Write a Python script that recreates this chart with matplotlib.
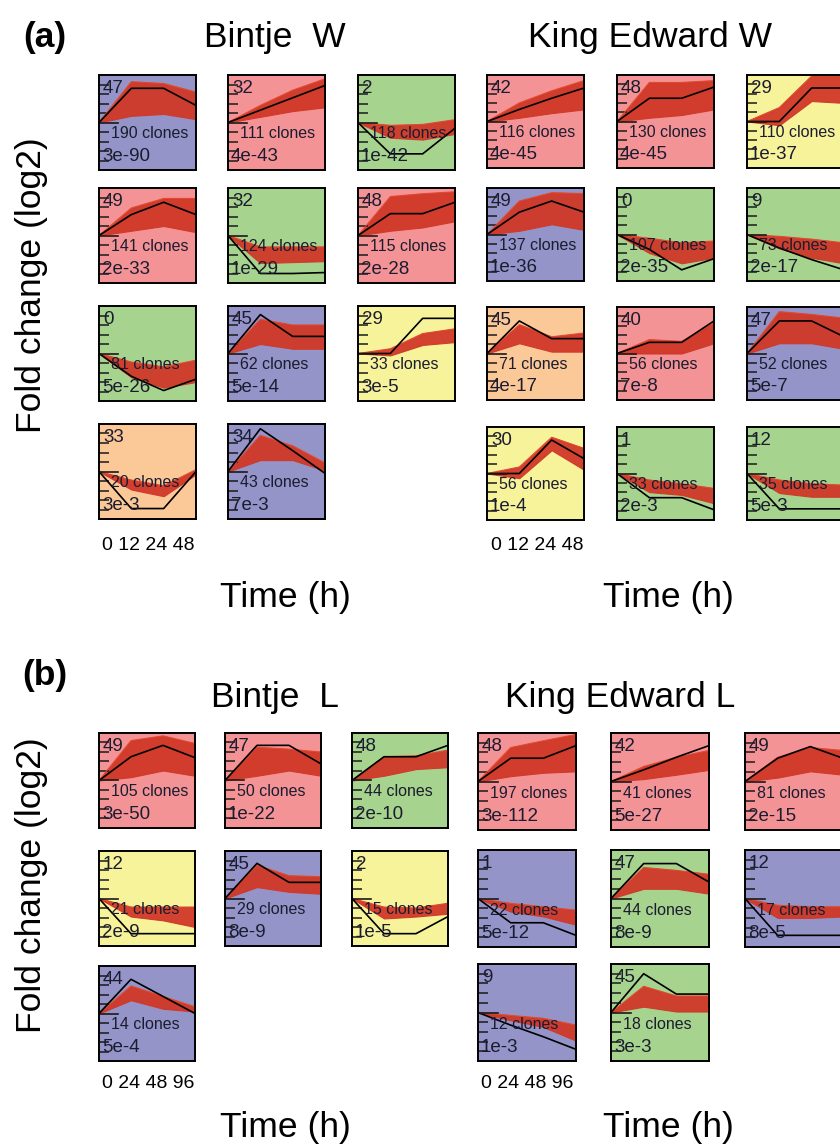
import matplotlib
matplotlib.use('Agg')
import matplotlib.pyplot as plt
import numpy as np

plt.rcParams['font.family'] = ['Liberation Sans', 'DejaVu Sans']

# ---------------- data ----------------
# every panel: profile id, clone count, p-value, colour class,
# model profile (black), lower / upper edge of the clone band (red), at 4 time points

a_bintje_ids = [47, 32, 2, 49, 32, 48, 0, 45, 29, 33, 34]
a_bintje_clones = [190, 111, 118, 141, 124, 115, 81, 62, 33, 20, 43]
a_bintje_pvals = ['3e-90', '4e-43', '1e-42', '2e-33', '1e-29', '2e-28', '5e-26', '5e-14', '3e-5', '3e-3', '7e-3']
a_bintje_cls = ['blue', 'pink', 'green', 'pink', 'green', 'pink', 'green', 'blue', 'yellow', 'orange', 'blue']
a_bintje_model = [[0, 3.6, 3.6, 1.8], [0, 1.3, 2.6, 3.9], [0, -3.3, -3.3, -0.6],
                  [0, 2.2, 3.5, 2.2], [0, -4.0, -4.0, -3.9], [0, 2.3, 2.3, 3.5],
                  [0, -2.4, -3.9, -2.7], [0, 4.1, 1.8, 1.8], [0, 0, 3.7, 3.7],
                  [0, -3.9, -3.9, 0], [0, 4.5, 2.2, -0.2]]
a_bintje_lo = [[0, 0.7, 0.9, 0.35], [0, 0.6, 1.2, 1.6], [0, -1.6, -1.8, -1.2],
               [0, 0.5, 1.0, 0.35], [0, -2.9, -2.8, -2.7], [0, 0.5, 0.85, 1.5],
               [0, -2.5, -3.6, -3.0], [0, 1.0, 0.5, 0.5], [0, -0.2, 0.9, 1.2],
               [0, -1.9, -2.6, -0.3], [0, 1.2, 1.2, 0.1]]
a_bintje_hi = [[0, 4.3, 4.1, 3.2], [0, 1.8, 3.4, 4.6], [0, -0.3, -0.2, 0.3],
               [0, 2.9, 3.9, 3.9], [0, -1.2, -1.2, -1.2], [0, 4.1, 4.4, 4.6],
               [0, -0.9, -1.4, -0.7], [0, 3.6, 3.0, 3.0], [0, 0.5, 2.1, 2.6],
               [0, -0.9, -1.5, 0.2], [0, 3.8, 2.7, 0.9]]

a_king_ids = [42, 48, 29, 49, 0, 9, 45, 40, 47, 30, 1, 12]
a_king_clones = [116, 130, 110, 137, 107, 73, 71, 56, 52, 56, 33, 35]
a_king_pvals = ['4e-45', '4e-45', '1e-37', '1e-36', '2e-35', '2e-17', '4e-17', '7e-8', '5e-7', '1e-4', '2e-3', '5e-3']
a_king_cls = ['pink', 'pink', 'yellow', 'blue', 'green', 'green', 'orange', 'pink', 'blue', 'yellow', 'green', 'green']
a_king_model = [[0, 1.3, 2.5, 3.6], [0, 2.5, 2.5, 3.7], [0, 0, 3.6, 3.6],
                [0, 2.4, 3.6, 2.4], [0, -1.6, -3.8, -2.6], [0, -1.45, -2.7, -3.8],
                [0, 3.5, 1.6, 1.6], [0, 1.2, 1.2, 3.5], [0, 3.5, 3.5, 1.8],
                [0, 0, 3.6, 1.6], [0, -2.6, -2.6, -3.9], [0, -3.8, -3.8, -3.8]]
a_king_lo = [[0, 0.4, 0.9, 1.3], [0, 0.4, 0.7, 1.3], [0, -0.4, 2.2, 2.0],
             [0, 0.4, 1.1, 0.5], [0, -2.0, -3.1, -2.5], [0, -1.5, -2.5, -3.1],
             [0, 1.1, 0.2, 0.2], [0, 0, 0, 1.1], [0, 1.1, 1.1, 0.5],
             [0, -0.5, 2.5, 0.4], [0, -2.0, -2.3, -3.2], [0, -2.1, -2.5, -2.5]]
a_king_hi = [[0, 2.0, 3.3, 4.4], [0, 4.2, 4.2, 4.4], [0, 1.5, 4.9, 4.9],
             [0, 3.6, 4.5, 4.4], [0, -0.4, -0.9, -0.7], [0, -0.2, -0.5, -0.9],
             [0, 3.1, 1.8, 2.2], [0, 1.5, 1.3, 3.3], [0, 4.5, 4.2, 3.8],
             [0, 0.7, 3.9, 2.7], [0, -0.7, -1.1, -1.6], [0, -0.7, -1.1, -1.25]]

b_bintje_ids = [49, 47, 48, 12, 45, 2, 44]
b_bintje_clones = [105, 50, 44, 21, 29, 15, 14]
b_bintje_pvals = ['3e-50', '1e-22', '2e-10', '2e-9', '8e-9', '1e-5', '5e-4']
b_bintje_cls = ['pink', 'pink', 'green', 'yellow', 'blue', 'yellow', 'blue']
b_bintje_model = [[0, 2.5, 3.7, 2.4], [0, 3.7, 3.7, 1.75], [0, 2.5, 2.5, 3.7],
                  [0, -3.7, -3.7, -3.7], [0, 3.7, 1.7, 1.7], [0, -3.7, -3.7, -1.9],
                  [0, 3.6, 1.8, 0]]
b_bintje_lo = [[0, 0.35, 1.05, 0.5], [0, 0.5, 1.05, 0.5], [0, 0.5, 1.2, 1.4],
               [0, -1.9, -2.3, -3.0], [0, 1.2, 0.7, 0.5], [0, -2.1, -1.9, -1.6],
               [0, 1.4, 0.5, 0.2]]
b_bintje_hi = [[0, 4.2, 4.7, 3.9], [0, 3.5, 3.3, 3.0], [0, 2.5, 2.6, 3.2],
               [0, -0.9, -0.9, -0.9], [0, 3.5, 2.4, 2.3], [0, -0.9, -1.0, -0.5],
               [0, 2.9, 1.8, 0.7]]

b_king_ids = [48, 42, 49, 1, 47, 12, 9, 45]
b_king_clones = [197, 41, 81, 22, 44, 17, 12, 18]
b_king_pvals = ['3e-112', '5e-27', '2e-15', '5e-12', '8e-9', '8e-5', '1e-3', '3e-3']
b_king_cls = ['pink', 'pink', 'pink', 'blue', 'green', 'blue', 'blue', 'green']
b_king_model = [[0, 2.4, 2.4, 3.7], [0, 1.2, 2.5, 3.7], [0, 2.4, 3.6, 2.4],
                [0, -2.5, -2.5, -3.8], [0, 3.6, 3.6, 1.7], [0, -3.8, -3.8, -3.8],
                [0, -1.3, -2.5, -3.8], [0, 4.0, 1.9, 1.9]]
b_king_lo = [[0, 0.55, 0.9, 1.05], [0, 0.25, 0.7, 1.2], [0, 0.4, 1.05, 0.7],
             [0, -1.35, -1.85, -2.7], [0, 1.0, 1.0, 0.5], [0, -2.0, -2.0, -1.85],
             [0, -0.8, -1.5, -2.9], [0, 0.6, 0.1, 0.1]]
b_king_hi = [[0, 3.5, 4.2, 4.85], [0, 1.55, 2.5, 3.2], [0, 2.5, 3.5, 3.2],
             [0, -0.5, -0.85, -1.2], [0, 3.2, 2.9, 2.5], [0, -0.7, -0.85, -0.85],
             [0, -0.3, -0.6, -1.3], [0, 2.7, 1.7, 1.7]]

bg_colors = {'pink': '#f49396', 'blue': '#9494c8', 'green': '#a6d38e',
             'yellow': '#f7f39a', 'orange': '#fbc898'}
band_color = '#d03828'

W, H = 840, 1147
fig = plt.figure(figsize=(W / 100, H / 100), dpi=100)


def panel(left, top, w, h, pid, n, pval, cls, model, lo, hi):
    ax = fig.add_axes([left / W, 1 - (top + h) / H, w / W, h / H])
    ax.set_facecolor(bg_colors[cls])
    t = np.arange(4)
    ax.fill_between(t, lo, hi, color=band_color, lw=0.8, alpha=0.95)
    ax.plot(t, hi, color='#e04a2e', lw=0.8)
    ax.plot(t, model, color='black', lw=1.2)
    ax.plot([0, 0.6], [0, 0], color='#1a1a1a', lw=1.2)
    ax.set_xlim(0, 3)
    ax.set_ylim(-5, 5)
    ax.set_xticks([])
    ax.set_yticks([-4, -3, -2, -1, 1, 2, 3, 4])
    ax.set_yticklabels([])
    ax.tick_params(axis='y', direction='in', length=7, width=1.1, color='#1a1a1a')
    for s in ax.spines.values():
        s.set_linewidth(1.4)
    tc = '#1c1c30'
    ax.text(0.04, 0.86, str(pid), transform=ax.transAxes, fontsize=13.5, color=tc, va='center')
    ax.text(0.12, 0.38, f'{n} clones', transform=ax.transAxes, fontsize=11.5, color=tc, va='center')
    ax.text(0.03, 0.14, pval, transform=ax.transAxes, fontsize=13.5, color=tc, va='center')


def group(lefts, tops, w, h, ids, clones, pvals, cls, model, lo, hi):
    for i in range(len(ids)):
        r, c = divmod(i, 3)
        panel(lefts[c], tops[r], w, h, ids[i], clones[i], pvals[i], cls[i], model[i], lo[i], hi[i])


group([99, 228, 358], [75, 188, 306, 424], 97, 95, a_bintje_ids, a_bintje_clones,
      a_bintje_pvals, a_bintje_cls, a_bintje_model, a_bintje_lo, a_bintje_hi)
group([487, 617, 747], [75, 188, 307, 427], 97, 93, a_king_ids, a_king_clones,
      a_king_pvals, a_king_cls, a_king_model, a_king_lo, a_king_hi)
group([99, 225, 352], [733, 851, 966], 96, 95, b_bintje_ids, b_bintje_clones,
      b_bintje_pvals, b_bintje_cls, b_bintje_model, b_bintje_lo, b_bintje_hi)
group([478, 611, 745], [733, 850, 964], 98, 97, b_king_ids, b_king_clones,
      b_king_pvals, b_king_cls, b_king_model, b_king_lo, b_king_hi)


def label(x, y, s, **kw):
    fig.text(x / W, 1 - y / H, s, ha='center', va='center', **kw)


big = 25.5
label(45, 38, '(a)', fontsize=big, fontweight='bold')
label(275, 38, 'Bintje  W', fontsize=big)
label(650, 38, 'King Edward W', fontsize=big)
label(32, 285, 'Fold change (log2)', fontsize=big, rotation=90)
label(148, 545, '0 12 24 48', fontsize=14)
label(537, 545, '0 12 24 48', fontsize=14)
label(285, 597, 'Time (h)', fontsize=big)
label(668, 597, 'Time (h)', fontsize=big)

label(45, 675, '(b)', fontsize=big, fontweight='bold')
label(275, 697, 'Bintje  L', fontsize=big)
label(620, 697, 'King Edward L', fontsize=big)
label(32, 885, 'Fold change (log2)', fontsize=big, rotation=90)
label(148, 1083, '0 24 48 96', fontsize=14)
label(527, 1083, '0 24 48 96', fontsize=14)
label(285, 1128, 'Time (h)', fontsize=big)
label(668, 1128, 'Time (h)', fontsize=big)

fig.savefig('out.png', dpi=100)
